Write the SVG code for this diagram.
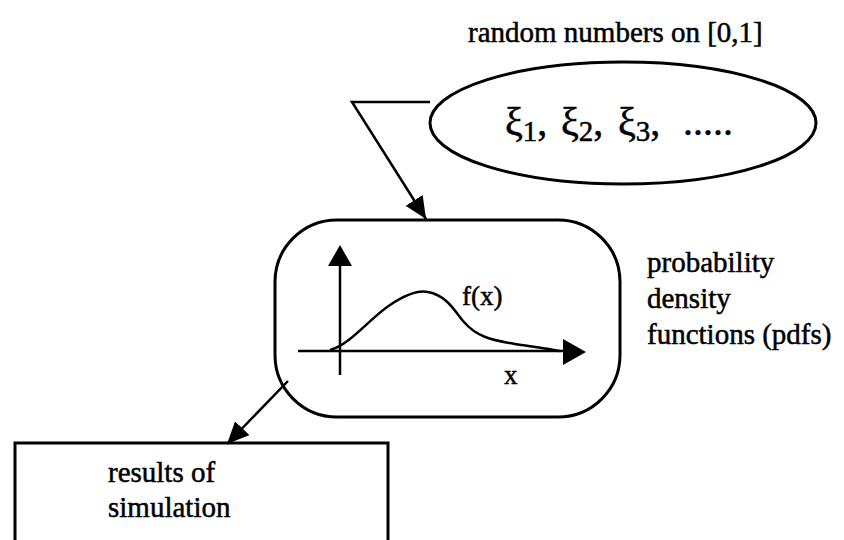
<svg xmlns="http://www.w3.org/2000/svg" width="844" height="540" viewBox="0 0 844 540">
<style>
  .shape { fill: none; stroke: #000; stroke-width: 3; }
  .line { fill: none; stroke: #000; stroke-width: 2.5; }
  .lbl { font-family: "Liberation Serif", "Times New Roman", serif; font-size: 29px; fill: #000; stroke: #000; stroke-width: 0.5; }
  .big { font-size: 40px; }
  .sub { font-size: 29px; }
</style>
<defs>
  <marker id="arr" viewBox="0 0 22 20" refX="22" refY="10" markerWidth="22" markerHeight="20" markerUnits="userSpaceOnUse" orient="auto">
    <path d="M0,0 L22,10 L0,20 z" fill="#000"/>
  </marker>
</defs>
<rect width="844" height="540" fill="#fff"/>

<text class="lbl" x="468" y="42">random numbers on [0,1]</text>

<g id="random-numbers">
  <ellipse class="shape" cx="623" cy="123" rx="193" ry="61"/>
  <text class="lbl big" y="135"><tspan x="505">ξ</tspan><tspan class="sub" dy="6">1</tspan><tspan dy="-6">,</tspan><tspan x="561">ξ</tspan><tspan class="sub" dy="6">2</tspan><tspan dy="-6">,</tspan><tspan x="618">ξ</tspan><tspan class="sub" dy="6">3</tspan><tspan dy="-6">,</tspan><tspan x="683">.....</tspan></text>
</g>

<g id="pdf">
  <rect class="shape" x="275" y="220" width="345" height="197" rx="62" ry="62"/>
  <line class="line" x1="340" y1="375" x2="340" y2="262"/>
  <path d="M340,245 L352,266 L328,266 z" fill="#000"/>
  <line class="line" x1="298" y1="351" x2="566" y2="351"/>
  <path d="M586,352 L563,339 L563,365 z" fill="#000"/>
  <path class="line" d="M330,350 C350,345 370,318 390,305 C405,295 418,290 428,292 C448,296 455,312 464,322 C476,336 490,340 515,344 C535,347 550,349 560,351"/>
  <text class="lbl" x="462" y="305" style="font-size:27px">f(x)</text>
  <text class="lbl" x="504" y="384" style="font-size:27px">x</text>
  <text class="lbl" x="647" y="272">probability</text>
  <text class="lbl" x="647" y="308">density</text>
  <text class="lbl" x="647" y="344">functions (pdfs)</text>
</g>

<g id="results">
  <rect class="shape" x="15" y="443" width="373" height="130"/>
  <text class="lbl" x="108" y="482">results of</text>
  <text class="lbl" x="108" y="517">simulation</text>
</g>

<g id="connectors">
  <path class="line" d="M430,102 L352,102 L426,219" marker-end="url(#arr)"/>
  <path class="line" d="M288,381 L227,444" marker-end="url(#arr)"/>
</g>
</svg>
